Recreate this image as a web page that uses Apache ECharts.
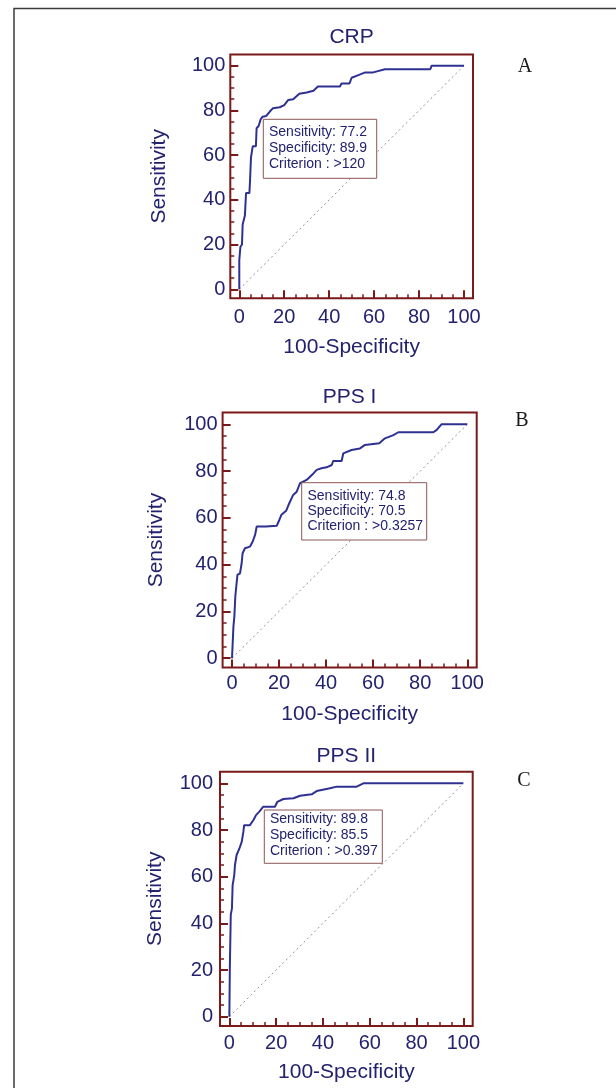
<!DOCTYPE html>
<html>
<head>
<meta charset="utf-8">
<script src="https://cdn.jsdelivr.net/npm/echarts@6.0.0/dist/echarts.min.js"></script>
<style>
  html, body { margin: 0; padding: 0; background: #ffffff; }
  #chart { width: 616px; height: 1088px; }
</style>
</head>
<body>
<div id="chart"></div>
<script>
// ---------- data ----------
const panelTitles = ['CRP', 'PPS I', 'PPS II'];
const panelLetters = ['A', 'B', 'C'];
const xAxisName = '100-Specificity';
const yAxisName = 'Sensitivity';
const majorTicks = [0, 20, 40, 60, 80, 100];
const minorTicks = [0, 5, 10, 15, 20, 25, 30, 35, 40, 45, 50, 55, 60, 65, 70, 75, 80, 85, 90, 95, 100];

// ROC curves: [100-Specificity, Sensitivity]
const crpRoc = [
  [0, 0], [0, 13], [0.5, 19], [1.2, 20], [1.5, 29], [2.5, 33], [3, 43], [4.5, 43], [4.8, 49],
  [5.2, 59], [6, 64], [7.4, 64], [7.7, 72], [8.6, 73], [9.5, 76], [10.4, 77.2], [12, 77.5],
  [13.6, 79.5], [15, 81], [18, 81.4], [20, 82.4], [21.8, 84.7], [24, 85], [26.7, 87.4],
  [30, 88], [33, 88.8], [35, 90.7], [44.8, 90.7], [45.5, 92], [49, 92], [50, 94.6],
  [53, 95.8], [56, 97], [59.6, 97], [64.8, 98.4], [85, 98.4], [85.6, 100], [100, 100]
];
const pps1Roc = [
  [0, 0], [0.6, 13.5], [1, 17.8], [1.4, 26.4], [2, 26.4], [2.3, 35.6], [3.4, 36.3], [4.1, 40.6],
  [4.5, 44.9], [5.5, 47], [7.6, 47.7], [8.8, 49.9], [9.8, 52.7], [10.5, 56.3], [14.4, 56.3],
  [19, 56.6], [20.1, 59.1], [21, 61.3], [23, 63], [24, 65.5], [26, 69.8], [27.5, 71.2],
  [28.9, 74.8], [31.7, 76.2], [34.6, 79], [36, 80.5], [38, 81.2], [40.2, 81.6], [42.4, 82.6],
  [43, 84.3], [46.6, 84.3], [47.3, 87.6], [50.8, 89], [54.4, 89.7], [56.5, 91.2], [62.6, 91.9],
  [65, 94], [68.6, 95.4], [70.7, 96.6], [85.6, 96.6], [87, 97.6], [89, 100], [100, 100]
];
const pps2Roc = [
  [0, 0], [0.2, 20.7], [0.6, 43.6], [1.1, 46.4], [1.4, 56.4], [2.1, 60.7], [2.4, 65], [3.1, 69.3],
  [4.3, 72.1], [5.3, 75], [6, 79.3], [6.3, 82.1], [8.8, 82.1], [10.3, 84.3], [11.4, 86.4],
  [12.8, 87.9], [14.5, 90], [19.5, 90], [20.5, 92.1], [23.1, 93.3], [27.4, 93.6], [30.2, 94.7],
  [35.2, 95.3], [37.3, 96.7], [43, 97.9], [45.9, 98.6], [54.4, 98.6], [57.3, 100], [100, 100]
];
const diagonal = [[0, 0], [100, 100]];

const annotations = [
  ['Sensitivity: 77.2', 'Specificity: 89.9', 'Criterion : >120'],
  ['Sensitivity: 74.8', 'Specificity: 70.5', 'Criterion : >0.3257'],
  ['Sensitivity: 89.8', 'Specificity: 85.5', 'Criterion : >0.397']
];
const rocData = [crpRoc, pps1Roc, pps2Roc];

// ---------- layout / style ----------
const FONT = '"Liberation Sans", Arial, sans-serif';
const TEXT = '#22226e';
const BOX = '#7b1a1a';
const CURVE = '#2e3192';

const panels = [
  { left: 230.3, top: 54.5, width: 242.7, height: 243.7, xLabMargin: 9, yLabMargin: 5, xGap: 39, yGap: 61,
    title: [351.6, 37.5], letter: [525, 67], ann: { x: 263.3, y: 119.3, w: 113.4, h: 59, tx: 269, ty: 123.7, lh: 16 } },
  { left: 222.6, top: 412.6, width: 254.1, height: 255, xLabMargin: 6, yLabMargin: 5, xGap: 36, yGap: 56,
    title: [349.6, 397.5], letter: [522, 421], ann: { x: 301.7, y: 482.7, w: 125, h: 57.3, tx: 307.5, ty: 488.5, lh: 15 } },
  { left: 220, top: 771.7, width: 252.7, height: 254.3, xLabMargin: 7, yLabMargin: 7, xGap: 36, yGap: 54,
    title: [346.3, 756.7], letter: [524, 781], ann: { x: 264.3, y: 810, w: 118, h: 53.3, tx: 270, ty: 811.5, lh: 16 } }
];

const grids = [], xAxes = [], yAxes = [], series = [], graphics = [];

panels.forEach(function (p, i) {
  grids.push({
    left: p.left, top: p.top, width: p.width, height: p.height,
    show: true, borderColor: BOX, borderWidth: 2, backgroundColor: 'transparent', containLabel: false
  });
  // main x axis
  xAxes.push({
    type: 'value', gridIndex: i, min: -4, max: 104, position: 'bottom',
    name: xAxisName, nameLocation: 'middle', nameGap: p.xGap,
    nameTextStyle: { fontFamily: FONT, fontSize: 21, color: TEXT },
    axisLine: { show: false, onZero: false },
    splitLine: { show: false },
    axisTick: { show: true, inside: true, length: 8, customValues: majorTicks, lineStyle: { color: BOX, width: 2 } },
    axisLabel: { show: true, customValues: majorTicks, margin: p.xLabMargin, fontFamily: FONT, fontSize: 20, color: TEXT }
  });
  // minor x ticks
  xAxes.push({
    type: 'value', gridIndex: i, min: -4, max: 104, position: 'bottom',
    axisLine: { show: false, onZero: false }, splitLine: { show: false },
    axisTick: { show: true, inside: true, length: 4, customValues: minorTicks, lineStyle: { color: BOX, width: 1.5 } },
    axisLabel: { show: false }
  });
  yAxes.push({
    type: 'value', gridIndex: i, min: -4, max: 105, position: 'left',
    name: yAxisName, nameLocation: 'middle', nameGap: p.yGap, nameRotate: 90,
    nameTextStyle: { fontFamily: FONT, fontSize: 21, color: TEXT },
    axisLine: { show: false, onZero: false },
    splitLine: { show: false },
    axisTick: { show: true, inside: true, length: 8, customValues: majorTicks, lineStyle: { color: BOX, width: 2 } },
    axisLabel: { show: true, customValues: majorTicks, margin: p.yLabMargin, fontFamily: FONT, fontSize: 20, color: TEXT }
  });
  yAxes.push({
    type: 'value', gridIndex: i, min: -4, max: 105, position: 'left',
    axisLine: { show: false, onZero: false }, splitLine: { show: false },
    axisTick: { show: true, inside: true, length: 4, customValues: minorTicks, lineStyle: { color: BOX, width: 1.5 } },
    axisLabel: { show: false }
  });

  series.push({
    type: 'line', name: panelTitles[i] + ' reference', xAxisIndex: 2 * i, yAxisIndex: 2 * i,
    data: diagonal, showSymbol: false, silent: true, z: 1,
    lineStyle: { color: '#a08c8c', width: 1, type: [2, 3] }
  });
  series.push({
    type: 'line', name: panelTitles[i], xAxisIndex: 2 * i, yAxisIndex: 2 * i,
    data: rocData[i], showSymbol: false, silent: true, z: 3,
    lineStyle: { color: CURVE, width: 2 }
  });

  // title
  graphics.push({
    type: 'text', x: p.title[0], y: p.title[1], z: 100,
    style: { text: panelTitles[i], fill: TEXT, font: '21px ' + FONT, textAlign: 'center', textVerticalAlign: 'middle' }
  });
  // panel letter
  graphics.push({
    type: 'text', x: p.letter[0], y: p.letter[1], z: 100,
    style: { text: panelLetters[i], fill: '#1a1a1a', font: '20px "Liberation Serif", "DejaVu Serif", serif', textAlign: 'center', textVerticalAlign: 'middle' }
  });
  // annotation box
  graphics.push({
    type: 'rect', z: 100,
    shape: { x: p.ann.x, y: p.ann.y, width: p.ann.w, height: p.ann.h },
    style: { fill: '#ffffff', stroke: '#8a5656', lineWidth: 1 }
  });
  graphics.push({
    type: 'text', x: p.ann.tx, y: p.ann.ty, z: 101,
    style: { text: annotations[i].join('\n'), fill: TEXT, font: '14px ' + FONT, lineHeight: p.ann.lh, textAlign: 'left', textVerticalAlign: 'top' }
  });
});

// outer frame
graphics.push({
  type: 'polyline', z: 100,
  shape: { points: [[14, 1088], [14, 8.5], [616, 8.5]] },
  style: { stroke: '#3a3a3a', lineWidth: 1.5, fill: null }
});

const chart = echarts.init(document.getElementById('chart'), null, { renderer: 'canvas' });
chart.setOption({
  animation: false,
  backgroundColor: '#ffffff',
  grid: grids,
  xAxis: xAxes,
  yAxis: yAxes,
  series: series,
  graphic: graphics
});
</script>
</body>
</html>
